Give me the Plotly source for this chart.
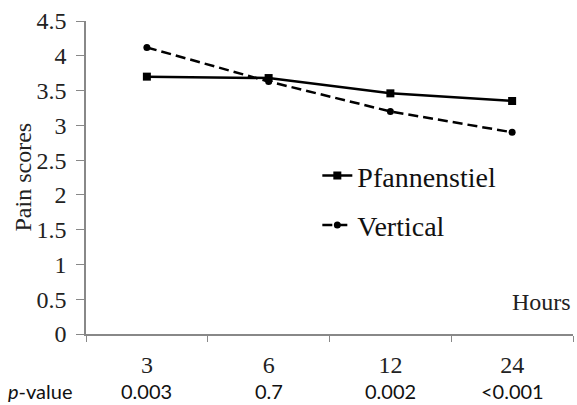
import plotly.graph_objects as go

hours = ["3", "6", "12", "24"]
p_values = ["0.003", "0.7", "0.002", "<0.001"]
pfannenstiel = [3.70, 3.68, 3.46, 3.35]
vertical = [4.12, 3.63, 3.20, 2.90]

serif = "Liberation Serif, Times New Roman, serif"
sans = "Lato, Open Sans, sans-serif"

fig = go.Figure()
fig.add_trace(go.Scatter(
    x=hours, y=pfannenstiel, name="Pfannenstiel", mode="lines+markers",
    line=dict(color="black", width=2.5),
    marker=dict(symbol="square", size=8, color="black"),
    legendgroup="a",
))
fig.add_trace(go.Scatter(
    x=hours, y=vertical, name="Vertical", mode="lines+markers",
    line=dict(color="black", width=2.5, dash="10px,5px"),
    marker=dict(symbol="circle", size=7, color="black"),
    legendgroup="b",
))

fig.update_layout(
    width=577, height=405,
    margin=dict(l=86, r=4, t=21, b=71),
    plot_bgcolor="white", paper_bgcolor="white",
    font=dict(family=serif, color="#222", size=24),
    legend=dict(
        x=0.475, y=0.585, xanchor="left", yanchor="top",
        font=dict(family=serif, size=28, color="#111"),
        bgcolor="rgba(0,0,0,0)", traceorder="grouped", tracegroupgap=10,
        itemwidth=30,
    ),
    xaxis=dict(
        type="category", categoryorder="array", categoryarray=hours,
        tickson="boundaries", ticks="outside", ticklen=6, tickcolor="#888",
        showline=True, linecolor="#888", linewidth=1.5,
        showgrid=False, zeroline=False,
        tickfont=dict(family=serif, size=24, color="#222"),
        ticklabelstandoff=8,
        range=[-0.5, 3.5],
    ),
    yaxis=dict(
        range=[0, 4.5], dtick=0.5,
        ticks="outside", ticklen=8, tickcolor="#888",
        showline=True, linecolor="#888", linewidth=1.5,
        showgrid=False, zeroline=False,
        tickfont=dict(family=serif, size=24, color="#222"),
        ticklabelstandoff=5,
    ),
)

# y-axis title (overlapping the tick labels like the original)
fig.add_annotation(text="Pain scores", textangle=-90, x=(22 - 86) / 487, y=0.5,
                   xref="paper", yref="paper", xanchor="center", yanchor="middle",
                   showarrow=False, font=dict(family=serif, size=24, color="#222"))

fig.add_annotation(text="Hours", x=1.0, y=(334 - 302) / 313, xref="paper", yref="paper",
                   xanchor="right", yanchor="middle", showarrow=False,
                   font=dict(family=serif, size=24, color="#222"))

fig.add_annotation(text="<i>p</i>-value", x=(40 - 86) / 487, y=-(391 - 334) / 313,
                   xref="paper", yref="paper", xanchor="center", yanchor="middle",
                   showarrow=False, font=dict(family=sans, size=20, color="#111"))
for i, p in enumerate(p_values):
    fig.add_annotation(text=p, x=i, y=-(391 - 334) / 313, xref="x", yref="paper",
                       xanchor="center", yanchor="middle", showarrow=False,
                       font=dict(family=sans, size=20, color="#111"))

fig.write_html("out.html")
